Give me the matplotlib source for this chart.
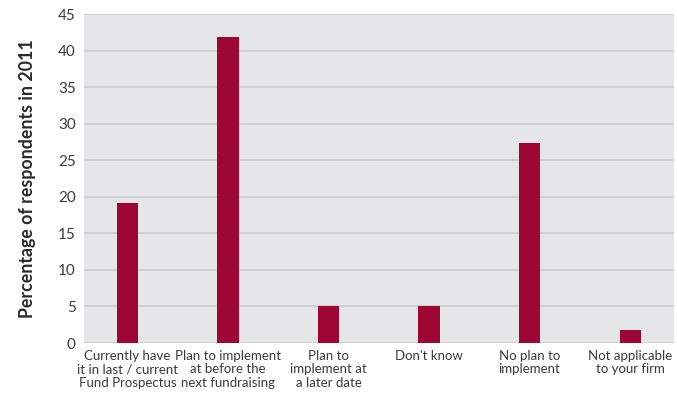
import matplotlib
matplotlib.use("Agg")
import matplotlib.pyplot as plt

categories = [
    "Currently have\nit in last / current\nFund Prospectus",
    "Plan to implement\nat before the\nnext fundraising",
    "Plan to\nimplement at\na later date",
    "Don't know",
    "No plan to\nimplement",
    "Not applicable\nto your firm",
]
values = [19.2, 41.8, 5.0, 5.0, 27.4, 1.8]
yticks = [0, 5, 10, 15, 20, 25, 30, 35, 40, 45]

plt.rcParams["font.family"] = ["Lato", "DejaVu Sans"]

fig = plt.figure(figsize=(6.77, 3.96), dpi=100)
ax = fig.add_axes([0.124, 0.1338, 0.8716, 0.8308])
ax.set_facecolor("#e5e6e8")

x = list(range(len(categories)))
ax.bar(x, values, width=0.21, color="#9e0734", zorder=3)

ax.set_ylim(0, 45)
ax.set_xlim(-0.433, 5.437)
ax.set_yticks(yticks)
ax.yaxis.grid(True, color="#c9cacc", linewidth=1.2, zorder=1)
ax.set_axisbelow(True)

for s in ax.spines.values():
    s.set_visible(False)

ax.tick_params(axis="both", length=0, labelcolor="#3a3a3a")
ax.tick_params(axis="y", pad=6, labelsize=11)
ax.tick_params(axis="x", pad=5, labelsize=9.5)
ax.set_xticks(x)
ax.set_xticklabels(categories, linespacing=1.14)

ax.set_ylabel("Percentage of respondents in 2011", fontsize=12.8, fontweight="bold",
              color="#2a2a2a", labelpad=16)

fig.savefig("out.png", dpi=100)
